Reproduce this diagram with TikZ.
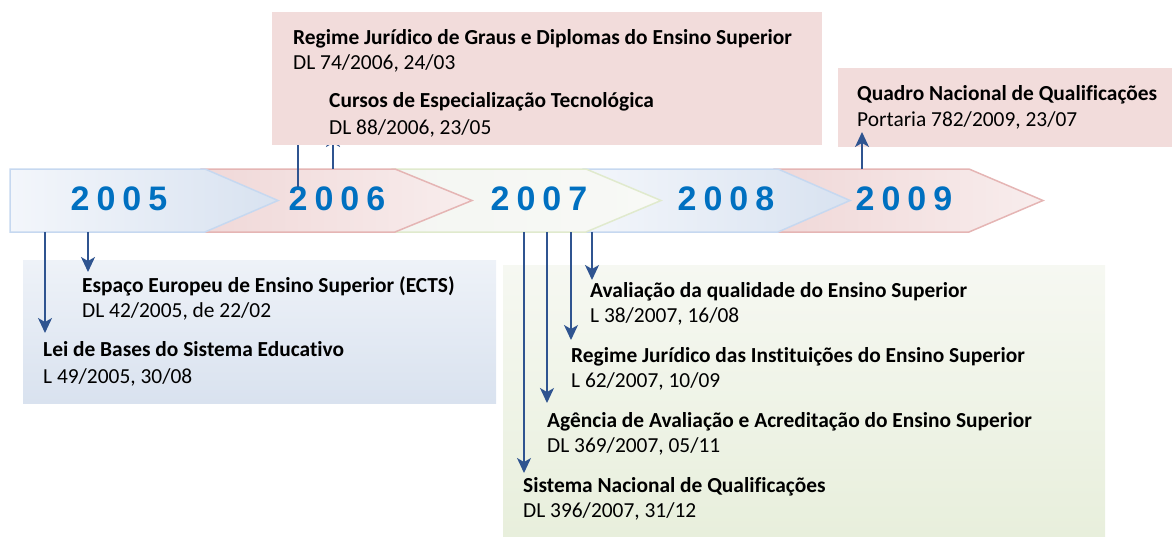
\documentclass[tikz,border=0pt]{standalone}
\usepackage{fontspec}
\setmainfont{Carlito}[Ligatures=CommonOff]
\newfontfamily\yearfont{Liberation Sans}
\usetikzlibrary{arrows.meta}
\definecolor{blueL}{HTML}{F3F6FB}
\definecolor{blueR}{HTML}{D8E2F0}
\definecolor{blueB}{HTML}{C6D8F0}
\definecolor{pinkL}{HTML}{F0D8D8}
\definecolor{pinkR}{HTML}{F8EDED}
\definecolor{pinkB}{HTML}{E5B5B4}
\definecolor{greenL}{HTML}{F4F6F2}
\definecolor{greenR}{HTML}{F8F9F6}
\definecolor{greenB}{HTML}{E0EACD}
\definecolor{arrowc}{HTML}{2F5490}
\definecolor{yearc}{HTML}{0070C0}
\definecolor{pinkbox}{HTML}{F2DCDB}
\definecolor{blueboxT}{HTML}{EEF2F8}
\definecolor{blueboxB}{HTML}{D9E2EF}
\definecolor{greenboxT}{HTML}{F6F8F2}
\definecolor{greenboxB}{HTML}{E8EFDC}
\newcommand{\yr}[4]{#1\kern7pt#2\kern7pt#3\kern7pt#4}
\tikzset{
  chev/.style={line width=1.5pt},
  yearlbl/.style={font=\yearfont\bfseries\fontsize{34}{34}\selectfont, text=yearc, inner sep=0pt},
  ttl/.style={font=\bfseries\fontsize{21.4}{21.4}\selectfont, anchor=base west, inner sep=0pt},
  sub/.style={font=\fontsize{21.4}{21.4}\selectfont, anchor=base west, inner sep=0pt},
  arr/.style={draw=arrowc, line width=1.4pt, -{Stealth[length=15pt,width=14pt,inset=4pt]}},
}
\begin{document}
\begin{tikzpicture}[x=1pt,y=1pt]
\useasboundingbox (0,0) rectangle (1174,-536);
% boxes
\fill[pinkbox] (838,-68) rectangle (1172,-147);
\shade[top color=blueboxT, bottom color=blueboxB] (23,-260) rectangle (496,-403);
\shade[top color=greenboxT, bottom color=greenboxB] (503,-265) rectangle (1105,-536);
% chevrons (drawn right to left)
\shadedraw[chev, draw=pinkB, left color=pinkL, right color=pinkR]
  (774,-169) -- (969,-169) -- (1043,-200.5) -- (969,-232) -- (774,-232) -- cycle;
\shadedraw[chev, draw=blueB, left color=blueL, right color=blueR]
  (583,-169) -- (778,-169) -- (850,-200.5) -- (778,-232) -- (583,-232) -- cycle;
\shadedraw[chev, draw=greenB, left color=greenL, right color=greenR]
  (392,-169) -- (586,-169) -- (661,-200.5) -- (586,-232) -- (392,-232) -- cycle;
\shadedraw[chev, draw=pinkB, left color=pinkL, right color=pinkR]
  (201,-169) -- (395,-169) -- (472,-200.5) -- (395,-232) -- (201,-232) -- cycle;
\shadedraw[chev, draw=blueB, left color=blueL, right color=blueR]
  (10,-169) -- (205,-169) -- (278,-200.5) -- (205,-232) -- (10,-232) -- cycle;
% years
\node[yearlbl] (y2005) at (119,-199) {\yr2005};
\node[yearlbl] (y2006) at (337,-199) {\yr2006};
\node[yearlbl] (y2007) at (539,-199) {\yr2007};
\node[yearlbl] (y2008) at (726,-199) {\yr2008};
\node[yearlbl] (y2009) at (904,-199) {\yr2009};
% arrow anchor coordinates
\coordinate (a1s) at (298,-187); \coordinate (a1e) at (298,-128);
\coordinate (a2s) at (333,-169); \coordinate (a2e) at (333,-132);
\coordinate (a3s) at (862,-169); \coordinate (a3e) at (862,-132);
\coordinate (b1s) at (45,-232);  \coordinate (b1e) at (45,-333);
\coordinate (b2s) at (88,-232);  \coordinate (b2e) at (88,-272);
\coordinate (c1s) at (524,-232); \coordinate (c1e) at (524,-473);
\coordinate (c2s) at (547,-232); \coordinate (c2e) at (547,-403);
\coordinate (c3s) at (571,-232); \coordinate (c3e) at (571,-340);
\coordinate (c4s) at (592,-232); \coordinate (c4e) at (592,-280);
% upward arrows of 2006 (heads hidden under the box)
\draw[arr] (a1s) -- (a1e);
\draw[arr] (a2s) -- (a2e);
\fill[pinkbox] (272,-12) rectangle (822,-145);
% other arrows
\draw[arr] (a3s) -- (a3e);
\draw[arr] (b1s) -- (b1e);
\draw[arr] (b2s) -- (b2e);
\draw[arr] (c1s) -- (c1e);
\draw[arr] (c2s) -- (c2e);
\draw[arr] (c3s) -- (c3e);
\draw[arr] (c4s) -- (c4e);
% texts
\node[ttl] (t1) at (293,-44) {Regime Jurídico de Graus e Diplomas do Ensino Superior};
\node[sub] (d1) at (293,-69) {DL 74/2006, 24/03};
\node[ttl] (t2) at (329,-107) {Cursos de Especialização Tecnológica};
\node[sub] (d2) at (329,-134) {DL 88/2006, 23/05};
\node[ttl] (t3) at (857,-100) {Quadro Nacional de Qualificações};
\node[sub] (d3) at (857,-126) {Portaria 782/2009, 23/07};
\node[ttl] (t4) at (82,-292) {Espaço Europeu de Ensino Superior (ECTS)};
\node[sub] (d4) at (82,-317) {DL 42/2005, de 22/02};
\node[ttl] (t5) at (43,-356) {Lei de Bases do Sistema Educativo};
\node[sub] (d5) at (43,-383) {L 49/2005, 30/08};
\node[ttl] (t6) at (590,-297) {Avaliação da qualidade do Ensino Superior};
\node[sub] (d6) at (590,-322) {L 38/2007, 16/08};
\node[ttl] (t7) at (571,-362) {Regime Jurídico das Instituições do Ensino Superior};
\node[sub] (d7) at (571,-387) {L 62/2007, 10/09};
\node[ttl] (t8) at (547,-427) {Agência de Avaliação e Acreditação do Ensino Superior};
\node[sub] (d8) at (547,-452) {DL 369/2007, 05/11};
\node[ttl] (t9) at (523,-492) {Sistema Nacional de Qualificações};
\node[sub] (d9) at (523,-517) {DL 396/2007, 31/12};
\end{tikzpicture}
\end{document}
